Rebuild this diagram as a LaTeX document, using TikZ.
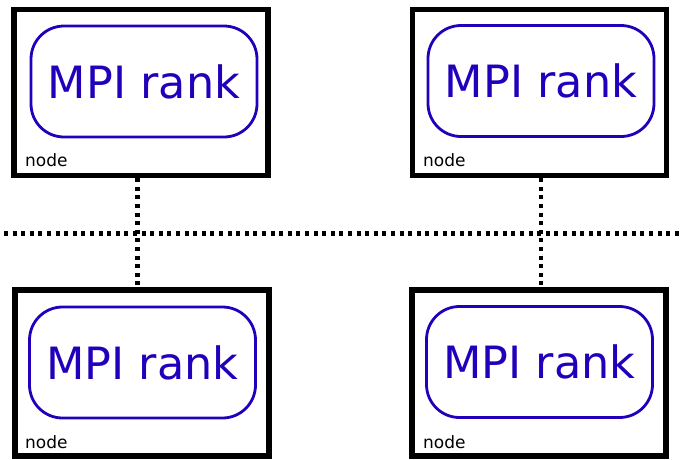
\documentclass[tikz,border=0pt]{standalone}
\usepackage{fontspec}
\setmainfont{DejaVu Sans}
\definecolor{rankblue}{HTML}{2200BB}
\begin{document}
\begin{tikzpicture}[x=1pt,y=-1pt,
  hostbox/.style={draw=black,line width=5.5pt,minimum width=254pt,minimum height=166pt,inner sep=0pt},
  rankbox/.style={draw=rankblue,line width=2.8pt,rounded corners=33pt,minimum width=226pt,minimum height=111pt,
    inner sep=0pt,text=rankblue,font=\fontsize{44.5}{50}\selectfont},
  hostlabel/.style={anchor=base west,inner sep=0pt,font=\fontsize{17}{20}\selectfont},
  link/.style={line width=4.4pt,dash pattern=on 4pt off 4.6pt}]
\useasboundingbox (0,0) rectangle (680,459);
% compute nodes
\node[hostbox] (tl) at (141,92.5) {};
\node[hostbox] (tr) at (539.5,92.5) {};
\node[hostbox] (bl) at (142,373) {};
\node[hostbox] (br) at (539,373) {};
% MPI ranks
\node[rankbox] (rtl) at (144,81.5) {MPI rank};
\node[rankbox] (rtr) at (541,81) {MPI rank};
\node[rankbox] (rbl) at (142.5,362.5) {MPI rank};
\node[rankbox] (rbr) at (539.5,362) {MPI rank};
% node labels
\node[hostlabel] (ltl) at (25,166) {node};
\node[hostlabel] (ltr) at (423,166) {node};
\node[hostlabel] (lbl) at (25,448) {node};
\node[hostlabel] (lbr) at (423,448) {node};
% interconnect
\coordinate (west) at (0,233.5);
\coordinate (east) at (680,233.5);
\draw[link,dash phase=4.6pt] (west) -- (east);
\draw[link] ([xshift=-3.5pt]tl.south) -- ([xshift=-4.5pt]bl.north);
\draw[link] ([xshift=1.5pt]tr.south) -- ([xshift=2pt]br.north);
\end{tikzpicture}
\end{document}
